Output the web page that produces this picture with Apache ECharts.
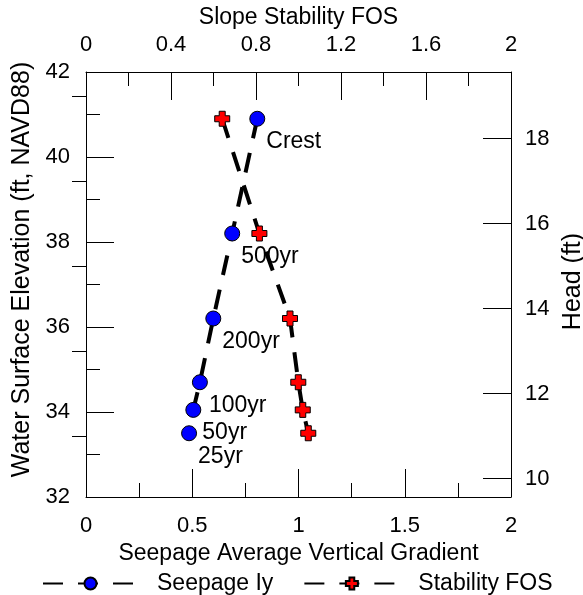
<!DOCTYPE html>
<html>
<head>
<meta charset="utf-8">
<script src="https://cdn.jsdelivr.net/npm/echarts@6/dist/echarts.min.js"></script>
<style>
html,body{margin:0;padding:0;background:#fff;}
#chart{width:583px;height:595px;}
</style>
</head>
<body>
<div id="chart"></div>
<script>
const pointLabels = ['Crest', '500yr', '200yr', '100yr', '50yr', '25yr'];
const elevations = [40.9, 38.2, 36.2, 34.7, 34.05, 33.5];
const seepageIy = [0.806, 0.688, 0.599, 0.536, 0.505, 0.485];
const stabilityFOS = [0.641, 0.816, 0.960, 0.999, 1.020, 1.046];
const gradientTicks = [0, 0.5, 1, 1.5, 2];
const gradientMinor = [0.25, 0.75, 1.25, 1.75];
const fosTicks = [0, 0.4, 0.8, 1.2, 1.6, 2];
const fosMinor = [0.2, 0.6, 1.0, 1.4, 1.8];
const elevTicks = [32, 34, 36, 38, 40, 42];
const elevMinor = [33, 35, 37, 39, 41];
const headMajorTicks = [10, 12, 14, 16, 18];
const headMinorTicks = [11, 13, 15, 17, 19];
const headMin = 9.57, headMax = 19.57;

const FONT = 'Liberation Sans, Arial, sans-serif';
const tickFont = 22, titleFont = 23, vTitleFont = 25;

const chart = echarts.init(document.getElementById('chart'), null, {renderer: 'canvas'});

function axisLine() { return {show: true, onZero: false, lineStyle: {color: '#000', width: 1}}; }
function majTick(vals) { return {show: true, inside: true, length: 28, lineStyle: {color: '#000', width: 1}, customValues: vals}; }
function lbl(extra) { return Object.assign({color: '#000', fontSize: tickFont, fontFamily: FONT}, extra); }
function nameStyle(extra) { return Object.assign({color: '#000', fontSize: titleFont, fontFamily: FONT}, extra || {}); }
function tickAxis(pos, min, max, vals, len) {
  return {
    type: 'value', position: pos, min: min, max: max,
    axisLine: {show: false},
    axisTick: {show: true, inside: true, length: len, lineStyle: {color: '#000', width: 1}, customValues: vals},
    axisLabel: {show: false, customValues: vals},
    splitLine: {show: false}
  };
}

const crossPath = 'path://M3,0H7V3H10V7H7V10H3V7H0V3H3Z';

chart.setOption({
  animation: false,
  backgroundColor: '#fff',
  grid: {left: 86, right: 72, top: 72, bottom: 98, containLabel: false, outerBoundsMode: 'none'},
  legend: {
    left: 37, top: 567,
    itemWidth: 95, itemHeight: 15, itemGap: 30,
    textStyle: {color: '#000', fontSize: titleFont, fontFamily: FONT, padding: [0, 0, 0, 14]},
    data: ['Seepage Iy', 'Stability FOS']
  },
  xAxis: [
    {
      type: 'value', position: 'bottom', min: 0, max: 2,
      name: 'Seepage Average Vertical Gradient', nameLocation: 'middle', nameGap: 43,
      nameTextStyle: nameStyle(),
      axisLine: axisLine(), axisTick: majTick(gradientTicks),
      axisLabel: lbl({margin: 18, customValues: gradientTicks, formatter: v => String(v)}),
      splitLine: {show: false}
    },
    {
      type: 'value', position: 'top', min: 0, max: 2,
      name: 'Slope Stability FOS', nameLocation: 'middle', nameGap: 41,
      nameTextStyle: nameStyle(),
      axisLine: axisLine(), axisTick: majTick(fosTicks),
      axisLabel: lbl({margin: 16, customValues: fosTicks, formatter: v => String(+v.toFixed(1))}),
      splitLine: {show: false}
    },
    tickAxis('bottom', 0, 2, gradientMinor, 14),
    tickAxis('top', 0, 2, fosMinor, 14),
    tickAxis('bottom', 0, 2, gradientTicks, 28),
    tickAxis('top', 0, 2, fosTicks, 28)
  ],
  yAxis: [
    {
      type: 'value', position: 'left', min: 32, max: 42,
      name: 'Water Surface Elevation (ft, NAVD88)', nameLocation: 'middle', nameGap: 36,
      nameRotate: 90,
      nameTextStyle: nameStyle({fontSize: vTitleFont, padding: [0, 0, 0, 30]}),
      axisLine: axisLine(), axisTick: majTick(elevTicks),
      axisLabel: lbl({margin: 16, customValues: elevTicks}),
      splitLine: {show: false}
    },
    {
      type: 'value', position: 'right', min: headMin, max: headMax,
      name: 'Head (ft)', nameLocation: 'middle', nameGap: 50,
      nameRotate: 90,
      nameTextStyle: nameStyle({fontSize: vTitleFont, padding: [0, 0, 0, 6]}),
      axisLine: axisLine(), axisTick: majTick(headMajorTicks),
      axisLabel: lbl({margin: 14, customValues: headMajorTicks}),
      splitLine: {show: false}
    },
    tickAxis('right', headMin, headMax, headMinorTicks, 14),
    tickAxis('left', 32, 42, elevMinor, 14),
    tickAxis('left', 32, 42, elevTicks, 28)
  ],
  series: [
    {
      name: 'Seepage Iy', type: 'line', xAxisIndex: 0, yAxisIndex: 0,
      data: seepageIy.map((v, i) => ({value: [v, elevations[i]], label: {formatter: pointLabels[i]}})),
      symbol: 'circle', symbolSize: 15,
      itemStyle: {color: '#0000FF', borderColor: '#000', borderWidth: 1},
      lineStyle: {color: '#000', width: 4, type: [20, 15]},
      label: {show: true, position: 'right', distance: 1, offset: [0, 23],
        color: '#000', fontSize: titleFont, fontFamily: FONT},
      z: 3
    },
    {
      name: 'Stability FOS', type: 'line', xAxisIndex: 1, yAxisIndex: 0,
      data: stabilityFOS.map((v, i) => [v, elevations[i]]),
      symbol: crossPath, symbolSize: 15,
      itemStyle: {color: '#FF0000', borderColor: '#000', borderWidth: 1},
      lineStyle: {color: '#000', width: 4, type: [20, 15]},
      z: 3
    }
  ]
});
</script>
</body>
</html>
